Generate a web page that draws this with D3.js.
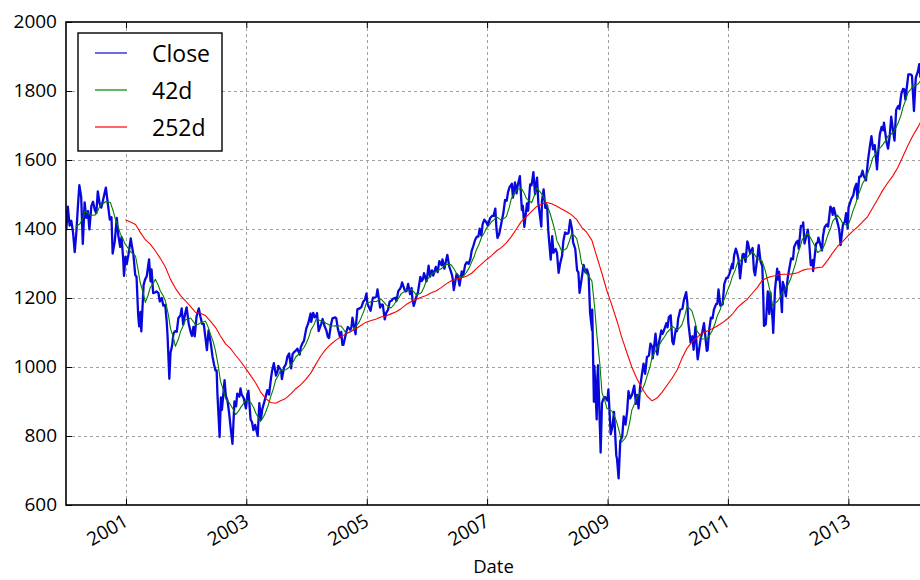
<!DOCTYPE html>
<html><head><meta charset="utf-8">
<script src="https://cdn.jsdelivr.net/npm/d3@7"></script>
<style>
body{margin:0;background:#fff}
svg{display:block}
text{font-family:"Open Sans",sans-serif;fill:#000}
</style>
</head><body>
<svg id="c" width="920" height="580"></svg>
<script>
// ---------------- DATA ----------------
const xDomain = ["2000-01-03", "2014-04-11"];
const yDomain = [600, 2000];
const yTicks = [600, 800, 1000, 1200, 1400, 1600, 1800, 2000];
const xTickYears = [2001, 2003, 2005, 2007, 2009, 2011, 2013];
const xLabel = "Date";
const legendLabels = ["Close", "42d", "252d"];
const seriesColors = ["#0808dc", "#008000", "#ff0000"];

// S&P 500 close (sampled)
const closeData = [
["2000-01-03",1455],["2000-01-05",1399],["2000-01-14",1465],["2000-01-25",1410],["2000-02-04",1424],["2000-02-15",1389],["2000-02-25",1333],["2000-03-06",1392],["2000-03-15",1464],["2000-03-24",1527],["2000-04-04",1494],["2000-04-14",1357],["2000-04-25",1477],["2000-05-05",1432],["2000-05-15",1452],["2000-05-24",1399],["2000-06-05",1467],["2000-06-15",1479],["2000-06-26",1455],["2000-07-05",1446],["2000-07-14",1509],["2000-07-25",1474],["2000-08-04",1462],["2000-08-15",1484],["2000-08-25",1506],["2000-09-01",1520],["2000-09-15",1465],["2000-09-25",1427],["2000-10-05",1434],["2000-10-12",1329],["2000-10-25",1364],["2000-11-06",1432],["2000-11-15",1383],["2000-11-27",1348],["2000-12-05",1376],["2000-12-15",1313],["2000-12-20",1264],["2000-12-29",1320],
["2001-01-05",1298],["2001-01-16",1326],["2001-01-30",1373],["2001-02-05",1354],["2001-02-15",1326],["2001-02-26",1267],["2001-03-06",1261],["2001-03-16",1150],["2001-03-22",1118],["2001-03-30",1160],["2001-04-04",1103],["2001-04-18",1238],["2001-04-27",1254],["2001-05-07",1263],["2001-05-21",1312],["2001-05-30",1248],["2001-06-05",1283],["2001-06-15",1214],["2001-06-26",1216],["2001-07-05",1219],["2001-07-17",1214],["2001-07-25",1190],["2001-08-06",1200],["2001-08-15",1178],["2001-08-27",1180],["2001-09-05",1132],["2001-09-10",1092],["2001-09-21",966],["2001-09-28",1041],["2001-10-08",1062],["2001-10-16",1097],["2001-10-26",1104],["2001-11-05",1102],["2001-11-15",1142],["2001-11-27",1149],["2001-12-05",1170],["2001-12-14",1123],["2001-12-27",1157],
["2002-01-04",1173],["2002-01-16",1127],["2002-01-29",1100],["2002-02-05",1090],["2002-02-14",1116],["2002-02-22",1089],["2002-03-05",1146],["2002-03-19",1170],["2002-03-28",1147],["2002-04-08",1125],["2002-04-18",1124],["2002-04-30",1077],["2002-05-07",1049],["2002-05-17",1106],["2002-05-31",1067],["2002-06-10",1030],["2002-06-20",1006],["2002-06-28",990],["2002-07-05",990],["2002-07-10",920],["2002-07-23",797],["2002-07-31",912],["2002-08-06",876],["2002-08-22",962],["2002-08-30",916],["2002-09-09",902],["2002-09-18",870],["2002-09-30",815],["2002-10-09",777],["2002-10-21",900],["2002-10-31",886],["2002-11-07",923],["2002-11-20",914],["2002-11-27",938],["2002-12-03",921],["2002-12-16",910],["2002-12-30",880],
["2003-01-08",922],["2003-01-14",931],["2003-01-27",848],["2003-02-05",840],["2003-02-13",817],["2003-02-24",832],["2003-03-11",800],["2003-03-21",895],["2003-03-31",848],["2003-04-08",878],["2003-04-17",893],["2003-04-30",917],["2003-05-09",933],["2003-05-19",920],["2003-05-30",964],["2003-06-06",988],["2003-06-17",1011],["2003-06-30",975],["2003-07-10",988],["2003-07-14",1003],["2003-07-31",990],["2003-08-05",965],["2003-08-18",999],["2003-08-29",1008],["2003-09-08",1031],["2003-09-18",1039],["2003-09-30",996],["2003-10-09",1038],["2003-10-20",1044],["2003-10-30",1048],["2003-11-07",1053],["2003-11-21",1036],["2003-11-28",1058],["2003-12-08",1069],["2003-12-17",1076],["2003-12-31",1112],
["2004-01-12",1127],["2004-01-26",1155],["2004-01-30",1131],["2004-02-11",1157],["2004-02-20",1144],["2004-02-27",1145],["2004-03-05",1156],["2004-03-15",1104],["2004-03-31",1126],["2004-04-08",1139],["2004-04-20",1118],["2004-04-30",1107],["2004-05-10",1087],["2004-05-17",1084],["2004-05-28",1121],["2004-06-07",1141],["2004-06-23",1144],["2004-06-30",1141],["2004-07-09",1112],["2004-07-23",1086],["2004-07-30",1102],["2004-08-06",1064],["2004-08-12",1064],["2004-08-31",1104],["2004-09-08",1116],["2004-09-23",1108],["2004-09-30",1115],["2004-10-06",1143],["2004-10-25",1095],["2004-10-29",1130],["2004-11-05",1167],["2004-11-19",1170],["2004-11-30",1174],["2004-12-10",1189],["2004-12-20",1194],["2004-12-30",1213],
["2005-01-05",1183],["2005-01-24",1163],["2005-01-31",1181],["2005-02-07",1201],["2005-02-18",1201],["2005-02-28",1204],["2005-03-07",1225],["2005-03-23",1172],["2005-03-31",1181],["2005-04-08",1181],["2005-04-20",1138],["2005-04-29",1157],["2005-05-10",1166],["2005-05-20",1190],["2005-05-31",1192],["2005-06-07",1197],["2005-06-23",1201],["2005-06-30",1191],["2005-07-11",1220],["2005-07-22",1227],["2005-07-29",1234],["2005-08-03",1245],["2005-08-22",1219],["2005-08-31",1220],["2005-09-09",1241],["2005-09-21",1211],["2005-09-30",1229],["2005-10-05",1196],["2005-10-13",1177],["2005-10-31",1207],["2005-11-08",1218],["2005-11-22",1261],["2005-11-30",1249],["2005-12-08",1255],["2005-12-14",1272],["2005-12-30",1248],
["2006-01-11",1294],["2006-01-20",1262],["2006-01-31",1280],["2006-02-08",1265],["2006-02-24",1290],["2006-02-28",1281],["2006-03-07",1275],["2006-03-17",1307],["2006-03-31",1295],["2006-04-05",1312],["2006-04-17",1285],["2006-04-28",1311],["2006-05-05",1325],["2006-05-16",1292],["2006-05-31",1270],["2006-06-06",1257],["2006-06-13",1223],["2006-06-30",1270],["2006-07-07",1265],["2006-07-18",1236],["2006-07-31",1277],["2006-08-09",1265],["2006-08-21",1296],["2006-08-31",1304],["2006-09-11",1299],["2006-09-22",1314],["2006-09-29",1336],["2006-10-09",1350],["2006-10-20",1368],["2006-10-31",1378],["2006-11-09",1378],["2006-11-17",1401],["2006-11-27",1381],["2006-12-05",1414],["2006-12-15",1427],["2006-12-29",1418],
["2007-01-05",1410],["2007-01-19",1431],["2007-01-31",1438],["2007-02-09",1438],["2007-02-20",1459],["2007-02-27",1400],["2007-03-05",1374],["2007-03-16",1386],["2007-03-30",1421],["2007-04-09",1444],["2007-04-20",1484],["2007-04-30",1482],["2007-05-08",1507],["2007-05-18",1522],["2007-05-31",1531],["2007-06-07",1491],["2007-06-19",1535],["2007-06-29",1503],["2007-07-05",1525],["2007-07-19",1553],["2007-07-31",1455],["2007-08-06",1467],["2007-08-15",1406],["2007-08-31",1474],["2007-09-07",1453],["2007-09-19",1529],["2007-09-28",1527],["2007-10-09",1565],["2007-10-19",1501],["2007-10-31",1549],["2007-11-08",1475],["2007-11-26",1407],["2007-11-30",1481],["2007-12-10",1515],["2007-12-20",1461],["2007-12-31",1468],
["2008-01-08",1390],["2008-01-22",1311],["2008-01-31",1379],["2008-02-08",1331],["2008-02-21",1342],["2008-02-29",1331],["2008-03-10",1273],["2008-03-19",1299],["2008-03-31",1323],["2008-04-08",1366],["2008-04-18",1390],["2008-04-30",1386],["2008-05-09",1388],["2008-05-19",1426],["2008-05-30",1400],["2008-06-06",1361],["2008-06-19",1342],["2008-06-30",1280],["2008-07-08",1274],["2008-07-15",1215],["2008-07-31",1267],["2008-08-08",1296],["2008-08-20",1274],["2008-08-29",1283],["2008-09-08",1267],["2008-09-17",1156],["2008-09-29",1106],["2008-09-30",1166],["2008-10-10",899],["2008-10-13",1003],["2008-10-27",848],["2008-10-31",969],["2008-11-04",1005],["2008-11-20",752],["2008-11-28",896],["2008-12-08",909],["2008-12-16",913],["2008-12-31",903],
["2009-01-06",935],["2009-01-20",805],["2009-01-30",826],["2009-02-09",870],["2009-02-23",743],["2009-02-27",735],["2009-03-09",677],["2009-03-19",785],["2009-03-31",798],["2009-04-09",857],["2009-04-20",833],["2009-04-30",873],["2009-05-08",930],["2009-05-18",909],["2009-05-29",919],["2009-06-12",946],["2009-06-22",893],["2009-06-30",919],["2009-07-08",880],["2009-07-17",941],["2009-07-31",987],["2009-08-07",1010],["2009-08-17",980],["2009-08-28",1029],["2009-09-09",1033],["2009-09-18",1068],["2009-09-30",1057],["2009-10-02",1025],["2009-10-19",1097],["2009-10-30",1036],["2009-11-09",1071],["2009-11-23",1106],["2009-11-30",1096],["2009-12-07",1103],["2009-12-24",1127],["2009-12-31",1115],
["2010-01-08",1145],["2010-01-19",1150],["2010-01-29",1074],["2010-02-05",1066],["2010-02-19",1109],["2010-02-26",1104],["2010-03-05",1139],["2010-03-18",1166],["2010-03-31",1169],["2010-04-09",1194],["2010-04-23",1217],["2010-04-30",1187],["2010-05-06",1128],["2010-05-20",1071],["2010-05-31",1089],["2010-06-07",1050],["2010-06-18",1117],["2010-06-30",1031],["2010-07-02",1022],["2010-07-20",1083],["2010-07-30",1102],["2010-08-09",1127],["2010-08-26",1047],["2010-08-31",1049],["2010-09-10",1110],["2010-09-20",1143],["2010-09-30",1141],["2010-10-08",1166],["2010-10-22",1183],["2010-10-29",1183],["2010-11-05",1225],["2010-11-16",1178],["2010-11-30",1181],["2010-12-10",1240],["2010-12-22",1258],["2010-12-31",1258],
["2011-01-10",1270],["2011-01-27",1299],["2011-01-31",1286],["2011-02-08",1324],["2011-02-18",1343],["2011-02-28",1327],["2011-03-07",1310],["2011-03-16",1257],["2011-03-31",1326],["2011-04-08",1328],["2011-04-18",1305],["2011-04-29",1364],["2011-05-02",1361],["2011-05-16",1329],["2011-05-31",1345],["2011-06-08",1280],["2011-06-15",1266],["2011-06-30",1321],["2011-07-07",1353],["2011-07-18",1306],["2011-07-29",1292],["2011-08-04",1200],["2011-08-08",1119],["2011-08-19",1124],["2011-08-31",1219],["2011-09-09",1154],["2011-09-16",1216],["2011-09-30",1131],["2011-10-03",1099],["2011-10-14",1225],["2011-10-27",1285],["2011-10-31",1253],["2011-11-08",1276],["2011-11-25",1159],["2011-11-30",1247],["2011-12-08",1234],["2011-12-19",1205],["2011-12-30",1258],
["2012-01-06",1278],["2012-01-20",1315],["2012-01-31",1312],["2012-02-07",1348],["2012-02-21",1362],["2012-02-29",1366],["2012-03-06",1343],["2012-03-19",1409],["2012-03-30",1408],["2012-04-02",1419],["2012-04-10",1358],["2012-04-30",1398],["2012-05-07",1369],["2012-05-18",1295],["2012-05-31",1310],["2012-06-01",1278],["2012-06-19",1357],["2012-06-29",1362],["2012-07-03",1375],["2012-07-25",1338],["2012-07-31",1379],["2012-08-10",1405],["2012-08-22",1413],["2012-08-31",1407],["2012-09-14",1465],["2012-09-21",1460],["2012-09-28",1441],["2012-10-05",1461],["2012-10-19",1433],["2012-10-31",1412],["2012-11-07",1395],["2012-11-15",1353],["2012-11-30",1416],["2012-12-10",1419],["2012-12-18",1446],["2012-12-28",1402],
["2013-01-02",1462],["2013-01-18",1486],["2013-01-31",1498],["2013-02-08",1518],["2013-02-19",1531],["2013-02-25",1488],["2013-03-08",1552],["2013-03-18",1552],["2013-03-28",1569],["2013-04-05",1553],["2013-04-18",1541],["2013-04-30",1598],["2013-05-10",1634],["2013-05-21",1669],["2013-05-31",1631],["2013-06-10",1643],["2013-06-24",1573],["2013-06-28",1606],["2013-07-11",1675],["2013-07-22",1696],["2013-07-31",1686],["2013-08-05",1708],["2013-08-20",1653],["2013-08-30",1633],["2013-09-09",1671],["2013-09-18",1726],["2013-09-30",1682],["2013-10-08",1656],["2013-10-18",1745],["2013-10-31",1757],["2013-11-07",1748],["2013-11-18",1791],["2013-11-29",1806],["2013-12-06",1805],["2013-12-13",1775],["2013-12-31",1848],
["2014-01-15",1848],["2014-01-22",1844],["2014-02-03",1742],["2014-02-14",1838],["2014-02-28",1859],["2014-03-07",1878],["2014-03-14",1841],["2014-03-21",1866],["2014-03-31",1872],["2014-04-02",1890],["2014-04-11",1816]
];

// 42-day trend (first value on 2000-03-02, then mid-month / month-end)
const ma42Start = "2000-03-02";
const ma42Values = [1406,
1411,1415, 1433,1452, 1446,1440, 1440,1441, 1454,1468, 1473,1479, 1478,1477, 1453,1429, 1407,1385, 1370,1355,
1344,1334, 1327,1321, 1283,1245, 1216,1187, 1208,1230, 1242,1254, 1238,1221, 1206,1192, 1152,1112, 1086,1060, 1081,1103, 1120,1137,
1139,1142, 1131,1121, 1124,1128, 1130,1133, 1115,1096, 1072,1047, 1003,959, 933,908, 899,890, 876,862, 872,883, 894,905,
901,897, 882,866, 854,842, 855,868, 891,913, 938,962, 976,991, 991,992, 998,1005, 1017,1029, 1037,1045, 1055,1066,
1086,1107, 1122,1138, 1136,1134, 1131,1127, 1123,1119, 1119,1120, 1119,1119, 1108,1097, 1100,1103, 1110,1118, 1130,1143, 1163,1184,
1187,1190, 1190,1190, 1194,1197, 1188,1180, 1175,1171, 1181,1190, 1201,1212, 1218,1223, 1224,1225, 1217,1209, 1212,1215, 1232,1250,
1260,1270, 1274,1278, 1281,1285, 1291,1298, 1297,1296, 1284,1272, 1265,1257, 1266,1274, 1288,1303, 1321,1340, 1358,1376, 1389,1403,
1412,1421, 1428,1435, 1430,1426, 1431,1436, 1462,1488, 1501,1514, 1516,1518, 1503,1488, 1482,1476, 1497,1519, 1510,1502, 1487,1472,
1450,1429, 1398,1367, 1351,1336, 1340,1344, 1366,1387, 1380,1372, 1336,1299, 1284,1269, 1259,1249, 1171,1093, 1009,926, 903,880,
876,872, 854,836, 809,782, 792,803, 839,875, 895,914, 923,931, 952,973, 1000,1028, 1042,1056, 1067,1078, 1089,1100,
1109,1118, 1112,1107, 1114,1122, 1149,1176, 1169,1162, 1133,1104, 1093,1081, 1082,1083, 1094,1105, 1126,1147, 1166,1185, 1202,1220,
1241,1262, 1282,1302, 1307,1313, 1315,1318, 1327,1335, 1324,1313, 1310,1307, 1281,1255, 1217,1179, 1185,1190, 1203,1217, 1226,1235,
1253,1272, 1299,1326, 1348,1371, 1379,1388, 1376,1364, 1348,1332, 1337,1341, 1361,1381, 1402,1423, 1432,1440, 1428,1416, 1412,1408,
1430,1451, 1474,1496, 1514,1532, 1546,1561, 1583,1605, 1617,1629, 1636,1644, 1656,1669, 1674,1679, 1692,1705, 1728,1752, 1774,1795,
1805,1815, 1817,1820, 1830,1841, 1856
];

// 252-day trend, month-end values from Dec 2000
const ma252Values = [1427,
1420,1413,1391,1369,1356,1337,1315,1290,1254,1228,1207,1192,
1175,1158,1156,1149,1133,1115,1090,1067,1053,1034,1016,996,
975,953,928,909,897,895,902,909,922,937,949,964,
983,1009,1032,1052,1066,1078,1088,1096,1104,1111,1121,1130,
1135,1139,1145,1148,1154,1160,1169,1181,1190,1196,1202,1207,
1215,1221,1230,1241,1250,1255,1258,1263,1271,1285,1298,1311,
1323,1337,1346,1360,1378,1400,1422,1436,1451,1465,1472,1477,
1473,1466,1458,1450,1441,1427,1405,1390,1367,1319,1271,1221,
1178,1132,1086,1042,1000,966,939,916,902,910,927,947,
968,992,1025,1054,1073,1086,1098,1104,1111,1119,1128,1139,
1153,1172,1184,1196,1213,1230,1251,1259,1263,1266,1269,1269,
1270,1273,1280,1284,1285,1288,1290,1309,1331,1350,1364,1379,
1394,1407,1421,1436,1461,1486,1512,1534,1554,1578,1610,1642,
1671,1696,1722,1735
];

// ---------------- CHART ----------------
const parse = d3.timeParse("%Y-%m-%d");
const L = 66, R = 925, T = 22, B = 505;
const svg = d3.select("#c");

const x = d3.scaleTime().domain(xDomain.map(parse)).range([L, R]);
const y = d3.scaleLinear().domain(yDomain).range([B, T]);

const closePts = closeData.map(d => ({date: parse(d[0]), v: d[1]}));
const ma42Pts = ma42Values.map((v, i) => ({
  date: i === 0 ? parse(ma42Start) : new Date(2000, 2 + Math.floor((i - 1) / 2), (i - 1) % 2 ? 28 : 15),
  v
}));
const ma252Pts = ma252Values.map((v, i) => ({date: new Date(2000, 11 + i, 28), v}));

svg.append("defs").append("clipPath").attr("id", "clip")
  .append("rect").attr("x", L).attr("y", T).attr("width", R - L).attr("height", B - T);

// grid
const grid = svg.append("g").attr("stroke", "#a0a0a0").attr("stroke-width", 1).attr("stroke-dasharray", "3,3");
grid.selectAll("line.v").data(xTickYears).join("line").attr("class", "v")
  .attr("x1", d => Math.round(x(new Date(d, 0, 1))) + 0.5).attr("x2", d => Math.round(x(new Date(d, 0, 1))) + 0.5)
  .attr("y1", T).attr("y2", B);
grid.selectAll("line.h").data(yTicks.filter(t => t > yDomain[0] && t < yDomain[1])).join("line").attr("class", "h")
  .attr("y1", d => Math.round(y(d)) + 0.5).attr("y2", d => Math.round(y(d)) + 0.5)
  .attr("x1", L).attr("x2", R);

// lines
const line = d3.line().x(d => x(d.date)).y(d => y(d.v));
const plot = svg.append("g").attr("clip-path", "url(#clip)").attr("fill", "none").attr("stroke-linejoin", "round");
plot.append("path").datum(closePts).attr("d", line).attr("stroke", seriesColors[0]).attr("stroke-width", 2.3);
plot.append("path").datum(ma42Pts).attr("d", line).attr("stroke", seriesColors[1]).attr("stroke-width", 1.1);
plot.append("path").datum(ma252Pts).attr("d", line).attr("stroke", seriesColors[2]).attr("stroke-width", 1.1);

// axes
const xTickDates = xTickYears.map(yr => new Date(yr, 0, 1));
const xAxis = svg.append("g").attr("transform", `translate(0,${B})`)
  .call(d3.axisBottom(x).tickValues(xTickDates).tickFormat(d3.timeFormat("%Y")).tickSizeInner(-6).tickSizeOuter(0));
xAxis.select(".domain").remove();
xAxis.selectAll(".tick line").attr("stroke", "#000").attr("stroke-width", 1);
xAxis.selectAll(".tick text")
  .attr("x", null).attr("y", null).attr("dy", null)
  .attr("text-anchor", "end")
  .attr("font-size", 19)
  .attr("transform", "translate(3,19.8) rotate(-30)");

const xTop = svg.append("g").attr("transform", `translate(0,${T})`)
  .call(d3.axisTop(x).tickValues(xTickDates).tickFormat("").tickSizeInner(-6).tickSizeOuter(0));
xTop.select(".domain").remove();

const yAxis = svg.append("g").attr("transform", `translate(${L},0)`)
  .call(d3.axisLeft(y).tickValues(yTicks).tickFormat(d3.format("d")).tickSizeInner(-6).tickSizeOuter(0).tickPadding(9));
yAxis.select(".domain").remove();
yAxis.selectAll(".tick text").attr("dy", null).attr("y", 5.5).attr("font-size", 19);

svg.selectAll(".tick text").attr("font-family", "Open Sans, sans-serif").attr("fill", "#000");

// frame
svg.append("rect").attr("x", L).attr("y", T).attr("width", R - L).attr("height", B - T)
  .attr("fill", "none").attr("stroke", "#000").attr("stroke-width", 1.6);

// x label
svg.append("text").attr("x", (L + R) / 2 - 2).attr("y", 573).attr("text-anchor", "middle")
  .attr("font-size", 18.5).text(xLabel);

// legend
const lg = svg.append("g");
lg.append("rect").attr("x", 78).attr("y", 33).attr("width", 144).attr("height", 118)
  .attr("fill", "#fff").attr("stroke", "#000").attr("stroke-width", 1.4);
const rowY = d3.scalePoint().domain(legendLabels).range([53, 127]);
legendLabels.forEach((lab, i) => {
  lg.append("line").attr("x1", 95).attr("x2", 127).attr("y1", rowY(lab)).attr("y2", rowY(lab))
    .attr("stroke", seriesColors[i]).attr("stroke-width", 1.2);
  lg.append("text").attr("x", 152).attr("y", rowY(lab) + 8.5).attr("font-size", 23).text(lab);
});
</script>
</body></html>
